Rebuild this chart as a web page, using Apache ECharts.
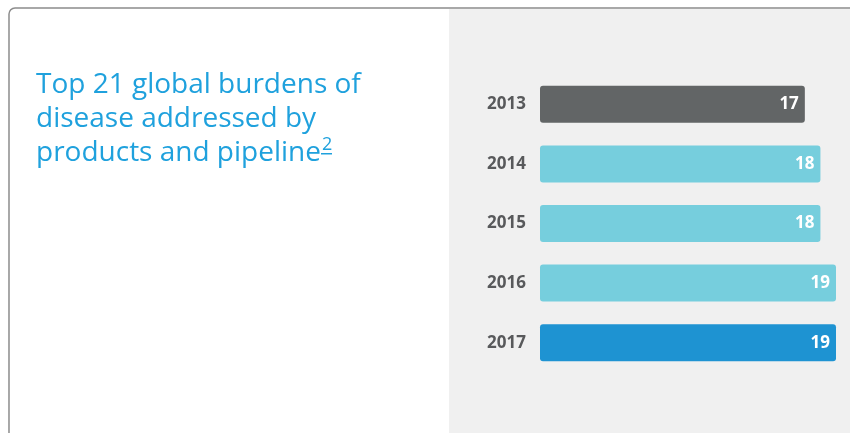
<!DOCTYPE html>
<html>
<head>
<meta charset="utf-8">
<script src="https://cdn.jsdelivr.net/npm/echarts@6/dist/echarts.min.js"></script>
<style>
  html, body { margin: 0; padding: 0; background: #fff; }
  #chart { width: 850px; height: 433px; }
</style>
</head>
<body>
<div id="chart"></div>
<script>
// years on the category axis, top to bottom
const years = ["2013", "2014", "2015", "2016", "2017"];
// number of top-21 disease burdens addressed
const burdens = [17, 18, 18, 19, 19];
const barColors = ["#626566", "#76cedd", "#76cedd", "#76cedd", "#1e93d2"];

const chart = echarts.init(document.getElementById("chart"));

chart.setOption({
  animation: false,
  backgroundColor: "#fff",
  title: {
    left: 36,
    top: 68,
    padding: 0,
    text: "{t|Top 21 global burdens of\ndisease addressed by\nproducts and pipeline}{s|2}",
    textStyle: {
      fontWeight: "normal",
      rich: {
        t: {
          fontFamily: "Open Sans",
          fontWeight: "normal",
          fontSize: 28,
          lineHeight: 34,
          color: "#1fa1dd",
        },
        s: {
          fontFamily: "Open Sans",
          fontWeight: "normal",
          fontSize: 18,
          lineHeight: 34,
          verticalAlign: "top",
          padding: [0, 0, 0, 1],
          color: "#1fa1dd",
        },
      },
    },
  },
  graphic: [
    {
      type: "rect",
      z: -10,
      shape: { x: 9, y: 8, width: 900, height: 500, r: 6 },
      style: { fill: "#fff", stroke: "#8c8c8c", lineWidth: 1.5 },
    },
    {
      type: "rect",
      z: -9,
      shape: { x: 449, y: 9, width: 410, height: 430 },
      style: { fill: "#f0f0f0" },
    },
    {
      // underline of the footnote mark
      type: "rect",
      shape: { x: 321, y: 153, width: 11, height: 1.5 },
      style: { fill: "#1fa1dd" },
    },
  ],
  grid: {
    left: 540,
    right: 14,
    top: 74.5,
    bottom: 60.5,
    containLabel: false,
  },
  xAxis: {
    type: "value",
    min: 0,
    max: 19,
    show: false,
  },
  yAxis: {
    type: "category",
    data: years,
    inverse: true,
    axisLine: { show: false },
    axisTick: { show: false },
    axisLabel: {
      margin: 14,
      color: "#58595b",
      fontFamily: "Open Sans",
      fontWeight: "bold",
      fontSize: 17,
    },
  },
  series: [
    {
      type: "bar",
      barWidth: 37,
      data: burdens.map((v, i) => ({
        value: v,
        itemStyle: { color: barColors[i], borderRadius: 3 },
      })),
      label: {
        show: true,
        position: "insideRight",
        distance: 6,
        color: "#fff",
        fontFamily: "Open Sans",
        fontWeight: "bold",
        fontSize: 17,
      },
    },
  ],
});
</script>
</body>
</html>
